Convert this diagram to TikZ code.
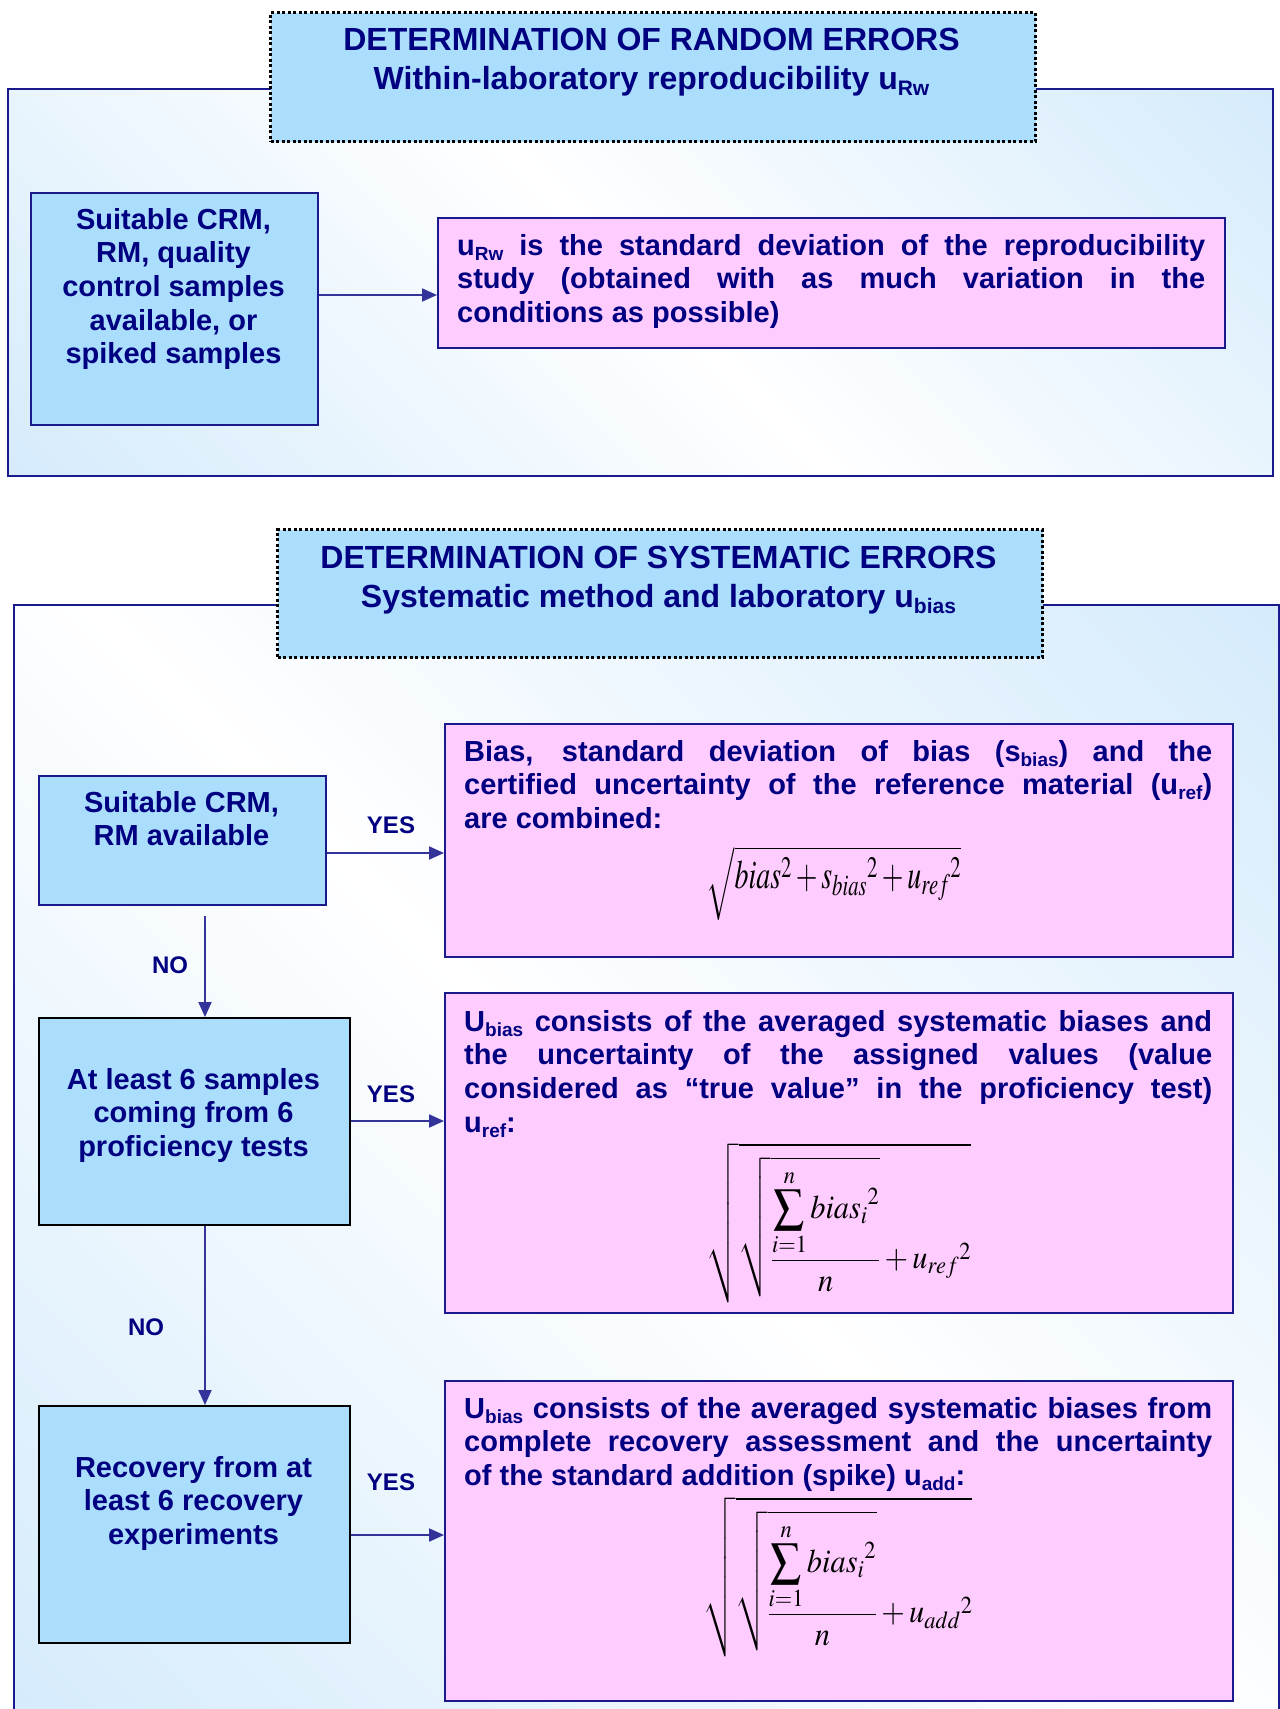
\documentclass[tikz,border=0pt]{standalone}
\usepackage{mathptmx}
\usepackage[no-math]{fontspec}
\setmainfont{Liberation Sans}
\usetikzlibrary{arrows.meta}

\definecolor{navytext}{RGB}{0,0,128}
\definecolor{navyline}{RGB}{26,26,140}
\definecolor{arrowblue}{RGB}{51,51,153}
\definecolor{boxblue}{RGB}{170,222,252}
\definecolor{pinkfill}{RGB}{255,204,255}
\definecolor{bandblue}{RGB}{196,227,250}

% white band along the falling diagonal, blue towards two corners
\pgfdeclareverticalshading{panelband}{100bp}{%
  color(0bp)=(bandblue); color(50bp)=(white); color(100bp)=(bandblue)}

\newcommand\bodysub[1]{\raisebox{-5pt}{\fontsize{19}{19}\selectfont #1}}
\newcommand\titlesub[1]{\raisebox{-6pt}{\fontsize{21}{21}\selectfont #1}}

\tikzset{
  panel/.style={draw=navyline, line width=2pt, shade, shading=panelband,
    shading angle=-45, anchor=north west, inner sep=0pt},
  headbox/.style={draw=black, fill=boxblue, line width=3pt,
    dash pattern=on 3pt off 2.5pt, anchor=north west, inner sep=0pt},
  headtext/.style={font=\fontsize{32}{39}\selectfont\bfseries, text=navytext,
    align=center, inner sep=0pt, anchor=north},
  qbox/.style={draw=navyline, fill=boxblue, line width=2pt,
    anchor=north west, inner sep=0pt},
  qboxdark/.style={qbox, draw=black},
  qtext/.style={font=\fontsize{29}{33.6}\selectfont\bfseries, text=navytext,
    align=center, inner sep=0pt, anchor=north},
  resultbox/.style={draw=navyline, fill=pinkfill, line width=2pt,
    anchor=north west, inner sep=0pt},
  resulttext/.style={font=\fontsize{29}{33.6}\selectfont\bfseries, text=navytext,
    text width=748pt, align=justify, inner sep=0pt, anchor=north west},
  formula/.style={font=\fontsize{31}{37}\selectfont, inner sep=0pt},
  answer/.style={font=\fontsize{24}{28}\selectfont\bfseries, text=navytext,
    inner sep=0pt},
  flow/.style={draw=arrowblue, line width=2pt,
    -{Triangle[length=15pt,width=13pt]}},
}

\begin{document}
\begin{tikzpicture}[x=1pt,y=-1pt]
\useasboundingbox (0,0) rectangle (1280,1709);
\fill[white] (0,0) rectangle (1280,1709);

% ---------------- random errors ----------------
\node[panel, minimum width=1265pt, minimum height=387pt] (randompanel) at (7,88) {};
\node[headbox, minimum width=765pt, minimum height=129pt] (randomhead) at (269,11) {};
\node[headtext] (randomtitle) at (651.5,28)
  {DETERMINATION OF RANDOM ERRORS\\Within-laboratory reproducibility u\titlesub{Rw}};

\node[qbox, minimum width=287pt, minimum height=232pt] (samples) at (30,192) {};
\node[qtext] (samplestext) at (173.5,208)
  {Suitable CRM,\\RM, quality\\control samples\\available, or\\spiked samples};

\node[resultbox, minimum width=787pt, minimum height=130pt] (urw) at (437,217) {};
\node[resulttext] (urwtext) at (457,234)
  {u\bodysub{Rw} is the standard deviation of the reproducibility\linebreak
   study (obtained with as much variation in the\linebreak
   conditions as possible)};

\coordinate (rowA) at (0,295);
\draw[flow] (samples.east |- rowA) -- (urw.west |- rowA);

% ---------------- systematic errors ----------------
\node[panel, minimum width=1265pt, minimum height=1116pt] (syspanel) at (13,604) {};
\node[headbox, minimum width=765pt, minimum height=128pt] (syshead) at (276,528) {};
\node[headtext] (systitle) at (658.5,546)
  {DETERMINATION OF SYSTEMATIC ERRORS\\Systematic method and laboratory u\titlesub{bias}};

% question boxes
\node[qbox, minimum width=287pt, minimum height=129pt] (crm) at (38,775) {};
\node[qtext] (crmtext) at (181.5,791) {Suitable CRM,\\RM available};

\node[qboxdark, minimum width=311pt, minimum height=207pt] (pt) at (38,1017) {};
\node[qtext] (pttext) at (193.5,1068) {At least 6 samples\\coming from 6\\proficiency tests};

\node[qboxdark, minimum width=311pt, minimum height=237pt] (rec) at (38,1405) {};
\node[qtext] (rectext) at (193.5,1456) {Recovery from at\\least 6 recovery\\experiments};

% result boxes
\node[resultbox, minimum width=788pt, minimum height=233pt] (crmres) at (444,723) {};
\node[resulttext] (crmrestext) at (464,740)
  {Bias, standard deviation of bias (s\bodysub{bias}) and the\linebreak
   certified uncertainty of the reference material (u\bodysub{ref})\linebreak
   are combined:};
\node[formula] (crmformula) at (834,883)
  {\scalebox{0.9}[1.3]{$\sqrt{\rule[-0.72em]{0pt}{1.6em}bias^{2}+s_{bias}{}^{2}+u_{ref}{}^{2}}$}};

\node[resultbox, minimum width=788pt, minimum height=320pt] (ptres) at (444,992) {};
\node[resulttext] (ptrestext) at (464,1010)
  {U\bodysub{bias} consists of the averaged systematic biases and\linebreak
   the uncertainty of the assigned values (value\linebreak
   considered as “true value” in the proficiency test)\linebreak
   u\bodysub{ref}:};
\node[formula] (ptformula) at (839,1223)
  {\scalebox{0.92}[1.0]{\fontsize{33}{39}\selectfont$\displaystyle\sqrt{\sqrt{\frac{\displaystyle\sum_{i=1}^{n} bias_{i}{}^{2}}{n}}+u_{ref}{}^{2}}$}};

\node[resultbox, minimum width=788pt, minimum height=320pt] (recres) at (444,1380) {};
\node[resulttext] (recrestext) at (464,1397)
  {U\bodysub{bias} consists of the averaged systematic biases from\linebreak
   complete recovery assessment and the uncertainty\linebreak
   of the standard addition (spike) u\bodysub{add}:};
\node[formula] (recformula) at (838,1577)
  {\scalebox{0.92}[1.0]{\fontsize{33}{39}\selectfont$\displaystyle\sqrt{\sqrt{\frac{\displaystyle\sum_{i=1}^{n} bias_{i}{}^{2}}{n}}+u_{add}{}^{2}}$}};

% connectors
\coordinate (rowB) at (0,853);
\coordinate (rowC) at (0,1121);
\coordinate (rowD) at (0,1535);
\coordinate (downstart) at (205,916);

\draw[flow] (crm.east |- rowB) -- (crmres.west |- rowB);
\draw[flow] (pt.east |- rowC) -- (ptres.west |- rowC);
\draw[flow] (rec.east |- rowD) -- (recres.west |- rowD);
\draw[flow] (downstart) -- (downstart |- pt.north);
\draw[flow] (pt.south -| downstart) -- (downstart |- rec.north);

\node[answer] (yes1) at (391,825) {YES};
\node[answer] (no1) at (170,965) {NO};
\node[answer] (yes2) at (391,1094) {YES};
\node[answer] (no2) at (146,1327) {NO};
\node[answer] (yes3) at (391,1482) {YES};
\end{tikzpicture}
\end{document}
